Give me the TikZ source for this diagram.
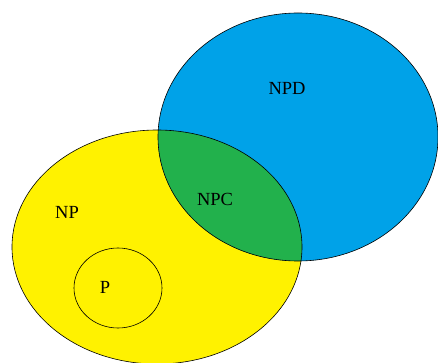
\documentclass[tikz,border=0pt]{standalone}
\usepackage{fontspec}
\setmainfont{Liberation Serif}
\usetikzlibrary{positioning}
\definecolor{npyellow}{RGB}{255,242,0}
\definecolor{npdblue}{RGB}{0,162,232}
\definecolor{npcgreen}{RGB}{34,177,76}
\tikzset{setlabel/.style={font=\fontsize{18.5}{22}\selectfont, inner sep=0pt}, setline/.style={draw=black, line width=0.6pt}}

\begin{document}
\begin{tikzpicture}[x=1pt,y=-1pt]
                      \useasboundingbox(0,0) rectangle (438,363);
                      \clip(0,0) rectangle (438,363);
                      \fill[npyellow](157,247) ellipse [x radius=145pt, y radius=117pt];
                      \fill[npdblue](298,137) ellipse [x radius=140pt, y radius=124pt];
                      \begin{scope}
                      \clip(157,247) ellipse [x radius=145pt, y radius=117pt];
                      \fill[npcgreen](298,137) ellipse [x radius=140pt, y radius=124pt];
                      \end{scope}
                      
                      \draw[setline](157,247) ellipse [x radius=145pt, y radius=117pt];
                      \draw[setline](298,137) ellipse [x radius=140pt, y radius=124pt];
                      \draw[setline](118,288) ellipse [x radius=44pt, y radius=40pt];
                      
                      \node[setlabel] (npd) at (287,88) {NPD};
                      \node[setlabel] (npc) at (215,199) {NPC};
                      \node[setlabel] (np) at (67,212) {NP};
                      \node[setlabel] (p) at (105,287) {P};
             \end{tikzpicture}
\end{document}
